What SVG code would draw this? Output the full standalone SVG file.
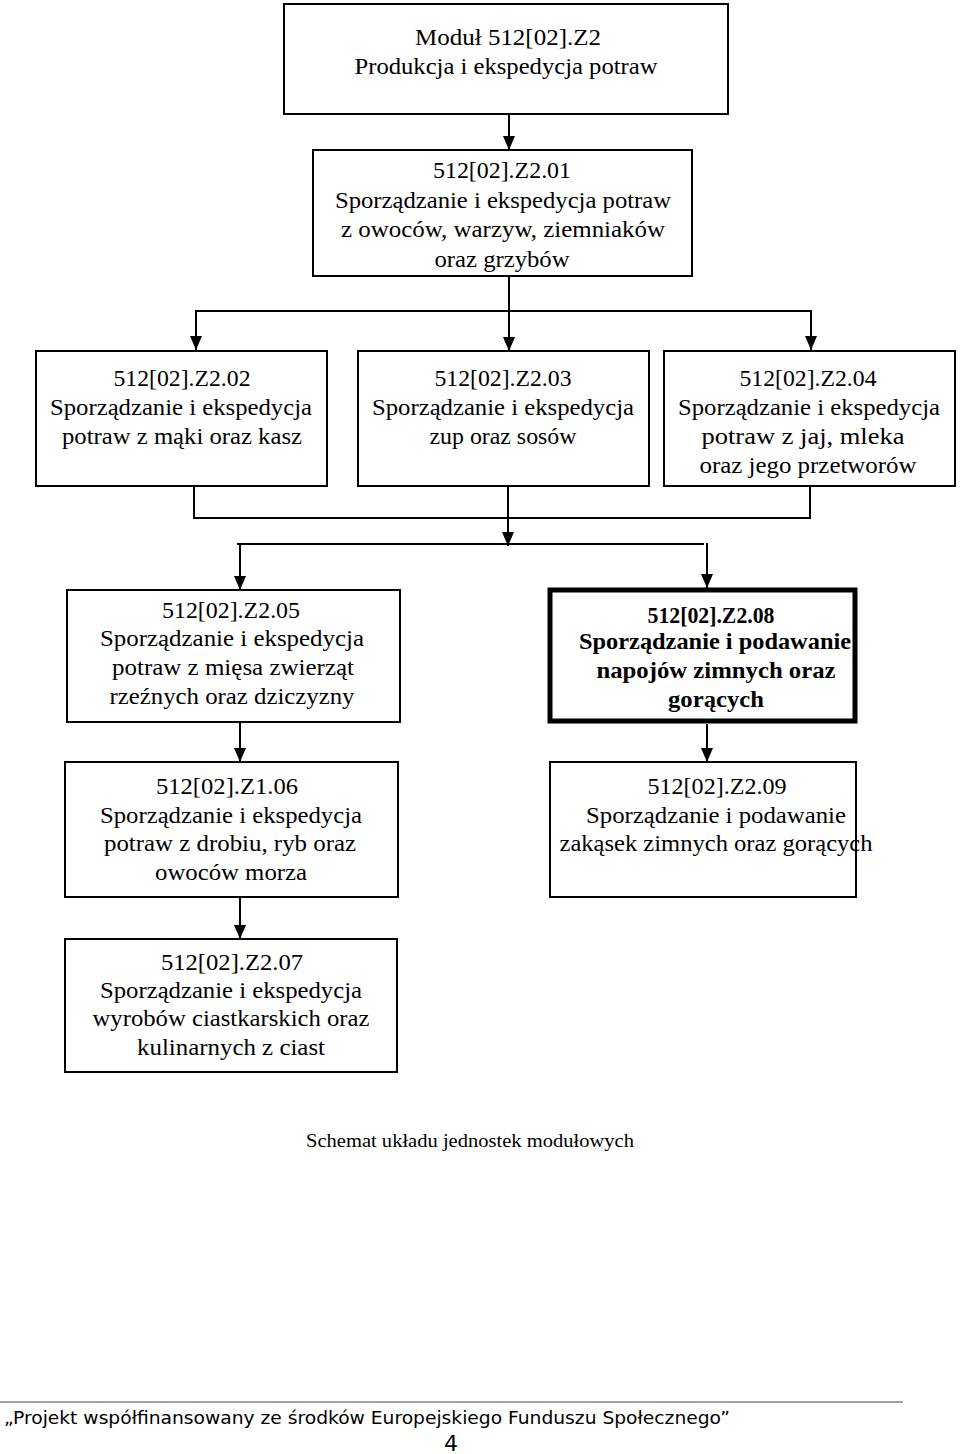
<svg xmlns="http://www.w3.org/2000/svg" width="960" height="1454" viewBox="0 0 960 1454">
<defs>
<marker id="arr" markerUnits="userSpaceOnUse" markerWidth="14" markerHeight="12" refX="14" refY="6" orient="auto">
<path d="M0,0 L14,6 L0,12 z" fill="#000"/>
</marker>
<style>
.box{fill:#fff;stroke:#000;stroke-width:2}
.thick{fill:#fff;stroke:#000;stroke-width:5}
.t{font-family:"Liberation Serif","Times New Roman",serif;font-size:24px;fill:#000;text-anchor:middle}
.b{font-weight:bold}
.ln{fill:none;stroke:#000;stroke-width:2}
.ar{fill:none;stroke:#000;stroke-width:2;marker-end:url(#arr)}
.foot{font-family:"DejaVu Sans",Verdana,sans-serif;font-size:17px;fill:#000}
.pg{font-family:"DejaVu Sans",Verdana,sans-serif;font-size:22px;fill:#000;text-anchor:middle}
</style>
</defs>
<rect width="960" height="1454" fill="#fff"/>
<g id="connectors">
<line class="ar" x1="509" y1="114" x2="509" y2="150"/>
<line class="ar" x1="509" y1="276" x2="509" y2="351"/>
<line class="ln" x1="195" y1="311" x2="812" y2="311"/>
<line class="ar" x1="196" y1="310" x2="196" y2="350"/>
<line class="ar" x1="811" y1="310" x2="811" y2="350"/>
<line class="ln" x1="194" y1="486" x2="194" y2="519"/>
<line class="ln" x1="810" y1="486" x2="810" y2="519"/>
<line class="ln" x1="194" y1="518" x2="810" y2="518"/>
<line class="ar" x1="508" y1="486" x2="508" y2="546"/>
<line class="ln" x1="237" y1="544" x2="704" y2="544"/>
<line class="ar" x1="240" y1="543" x2="240" y2="590"/>
<line class="ar" x1="707" y1="543" x2="707" y2="588"/>
<line class="ar" x1="240" y1="722" x2="240" y2="762"/>
<line class="ar" x1="707" y1="724" x2="707" y2="762"/>
<line class="ar" x1="240" y1="897" x2="240" y2="939"/>
</g>
<g id="node-modul">
<rect class="box" x="284" y="4" width="444" height="110"/>
<text class="t" x="508" y="45" textLength="186" lengthAdjust="spacingAndGlyphs">Moduł 512[02].Z2</text>
<text class="t" x="506" y="74" textLength="303" lengthAdjust="spacingAndGlyphs">Produkcja i ekspedycja potraw</text>
</g>
<g id="node-01">
<rect class="box" x="313" y="150" width="379" height="126"/>
<text class="t" x="502" y="178" textLength="138" lengthAdjust="spacingAndGlyphs">512[02].Z2.01</text>
<text class="t" x="503" y="208" textLength="336" lengthAdjust="spacingAndGlyphs">Sporządzanie i ekspedycja potraw</text>
<text class="t" x="503" y="237" textLength="324" lengthAdjust="spacingAndGlyphs">z owoców, warzyw, ziemniaków</text>
<text class="t" x="502" y="267" textLength="135" lengthAdjust="spacingAndGlyphs">oraz grzybów</text>
</g>
<g id="node-02">
<rect class="box" x="36" y="351" width="291" height="135"/>
<text class="t" x="182" y="386" textLength="137" lengthAdjust="spacingAndGlyphs">512[02].Z2.02</text>
<text class="t" x="181" y="415" textLength="262" lengthAdjust="spacingAndGlyphs">Sporządzanie i ekspedycja</text>
<text class="t" x="182" y="444" textLength="240" lengthAdjust="spacingAndGlyphs">potraw z mąki oraz kasz</text>
</g>
<g id="node-03">
<rect class="box" x="358" y="351" width="291" height="135"/>
<text class="t" x="503" y="386" textLength="137" lengthAdjust="spacingAndGlyphs">512[02].Z2.03</text>
<text class="t" x="503" y="415" textLength="262" lengthAdjust="spacingAndGlyphs">Sporządzanie i ekspedycja</text>
<text class="t" x="503" y="444" textLength="147" lengthAdjust="spacingAndGlyphs">zup oraz sosów</text>
</g>
<g id="node-04">
<rect class="box" x="664" y="351" width="291" height="135"/>
<text class="t" x="808" y="386" textLength="137" lengthAdjust="spacingAndGlyphs">512[02].Z2.04</text>
<text class="t" x="809" y="415" textLength="262" lengthAdjust="spacingAndGlyphs">Sporządzanie i ekspedycja</text>
<text class="t" x="803" y="444" textLength="203" lengthAdjust="spacingAndGlyphs">potraw z jaj, mleka</text>
<text class="t" x="808" y="473" textLength="217" lengthAdjust="spacingAndGlyphs">oraz jego przetworów</text>
</g>
<g id="node-05">
<rect class="box" x="67" y="590" width="333" height="132"/>
<text class="t" x="231" y="618" textLength="138" lengthAdjust="spacingAndGlyphs">512[02].Z2.05</text>
<text class="t" x="232" y="646" textLength="264" lengthAdjust="spacingAndGlyphs">Sporządzanie i ekspedycja</text>
<text class="t" x="233" y="675" textLength="242" lengthAdjust="spacingAndGlyphs">potraw z mięsa zwierząt</text>
<text class="t" x="232" y="704" textLength="245" lengthAdjust="spacingAndGlyphs">rzeźnych oraz dziczyzny</text>
</g>
<g id="node-08">
<rect class="thick" x="550" y="590" width="305" height="131"/>
<text class="t b" x="711" y="623" textLength="127" lengthAdjust="spacingAndGlyphs">512[02].Z2.08</text>
<text class="t b" x="715" y="649" textLength="272" lengthAdjust="spacingAndGlyphs">Sporządzanie i podawanie</text>
<text class="t b" x="716" y="678" textLength="239" lengthAdjust="spacingAndGlyphs">napojów zimnych oraz</text>
<text class="t b" x="716" y="707" textLength="96" lengthAdjust="spacingAndGlyphs">gorących</text>
</g>
<g id="node-06">
<rect class="box" x="65" y="762" width="333" height="135"/>
<text class="t" x="227" y="794" textLength="142" lengthAdjust="spacingAndGlyphs">512[02].Z1.06</text>
<text class="t" x="231" y="823" textLength="262" lengthAdjust="spacingAndGlyphs">Sporządzanie i ekspedycja</text>
<text class="t" x="230" y="851" textLength="252" lengthAdjust="spacingAndGlyphs">potraw z drobiu, ryb oraz</text>
<text class="t" x="231" y="880" textLength="152" lengthAdjust="spacingAndGlyphs">owoców morza</text>
</g>
<g id="node-09">
<rect class="box" x="550" y="762" width="306" height="135"/>
<text class="t" x="717" y="794" textLength="139" lengthAdjust="spacingAndGlyphs">512[02].Z2.09</text>
<text class="t" x="716" y="823" textLength="260" lengthAdjust="spacingAndGlyphs">Sporządzanie i podawanie</text>
<text class="t" x="716" y="851" textLength="313" lengthAdjust="spacingAndGlyphs">zakąsek zimnych oraz gorących</text>
</g>
<g id="node-07">
<rect class="box" x="65" y="939" width="332" height="133"/>
<text class="t" x="232" y="970" textLength="142" lengthAdjust="spacingAndGlyphs">512[02].Z2.07</text>
<text class="t" x="231" y="998" textLength="262" lengthAdjust="spacingAndGlyphs">Sporządzanie i ekspedycja</text>
<text class="t" x="231" y="1026" textLength="277" lengthAdjust="spacingAndGlyphs">wyrobów ciastkarskich oraz</text>
<text class="t" x="231" y="1055" textLength="188" lengthAdjust="spacingAndGlyphs">kulinarnych z ciast</text>
</g>
<g id="caption">
<text x="470" y="1147" font-family="Liberation Serif, serif" font-size="18" text-anchor="middle" textLength="328" lengthAdjust="spacingAndGlyphs">Schemat układu jednostek modułowych</text>
</g>
<g id="footer">
<line x1="0" y1="1402" x2="903" y2="1402" stroke="#444" stroke-width="1.2"/>
<text class="foot" x="4" y="1424" textLength="726" lengthAdjust="spacingAndGlyphs">„Projekt współfinansowany ze środków Europejskiego Funduszu Społecznego”</text>
<text class="pg" x="451" y="1451">4</text>
</g>
</svg>
